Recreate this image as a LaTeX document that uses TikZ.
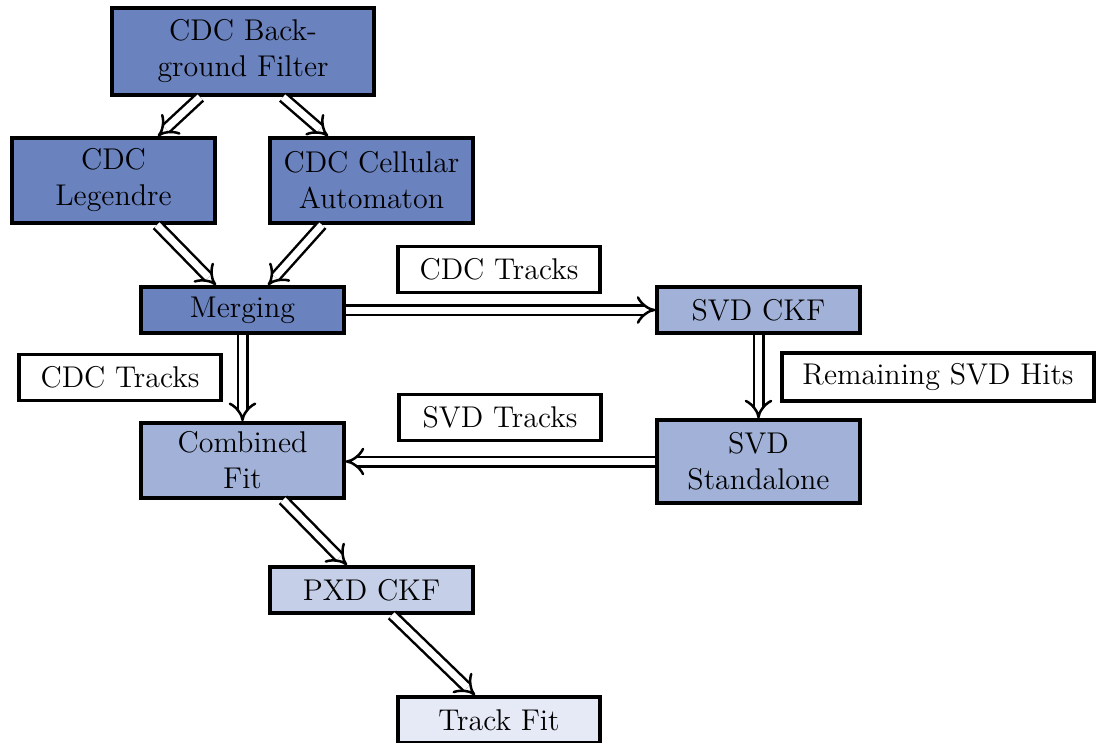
\documentclass[tikz,border=0pt]{standalone}
\usepackage{tikz}
\usetikzlibrary{positioning,arrows.meta}
\definecolor{cdark}{HTML}{6a82be}
\definecolor{cmid}{HTML}{a1b1d8}
\definecolor{clight}{HTML}{c6cfe8}
\definecolor{cpale}{HTML}{e6eaf6}

\begin{document}
\begin{tikzpicture}[x=0.4pt, y=-0.4pt, font=\fontsize{12}{14.4}\selectfont,
  box/.style={draw=black, line width=1.5pt, align=center, inner sep=2pt, minimum width=81pt, minimum height=18.4pt},
  lab/.style={box, fill=white},
  flow/.style={double, double distance=2.8pt, line width=1pt, -{Implies}}]
\useasboundingbox (0,0) rectangle (1096,742);
\node[box, fill=cdark, minimum width=105pt, minimum height=35pt] (bg) at (243,51.5) {CDC Back-\\ground Filter};
\node[box, fill=cdark, minimum height=34pt] (leg) at (113.5,180.5) {CDC\\Legendre};
\node[box, fill=cdark, minimum height=34pt] (cell) at (371.5,180.5) {CDC Cellular\\Automaton};
\node[box, fill=cdark] (merge) at (242.5,310) {Merging};
\node[box, fill=cmid] (ckf) at (758.5,310) {SVD CKF};
\node[box, fill=cmid, minimum height=30pt] (comb) at (242.5,460.5) {Combined\\Fit};
\node[box, fill=cmid, minimum height=33pt] (stand) at (758.5,461.5) {SVD\\Standalone};
\node[box, fill=clight] (pxd) at (371.5,590) {PXD CKF};
\node[box, fill=cpale] (fit) at (499,720) {Track Fit};
% labels
\node[lab] (cdctop) at (499,269.5) {CDC Tracks};
\node[lab] (cdcleft) at (120,377.5) {CDC Tracks};
\node[lab] (svdtr) at (500,417.5) {SVD Tracks};
\node[lab, minimum width=125pt, minimum height=19pt] (hits) at (938,377) {Remaining SVD Hits};
% connectors
\draw[flow] ([xshift=-17.2pt]bg.south) -- ([xshift=17.8pt]leg.north);
\draw[flow] ([xshift=16pt]bg.south) -- ([xshift=-17.4pt]cell.north);
\draw[flow] ([xshift=17.4pt]leg.south) -- ([xshift=-10.6pt]merge.north);
\draw[flow] ([xshift=-19.8pt]cell.south) -- ([xshift=10.2pt]merge.north);
\draw[flow] (merge.east) -- (ckf.west);
\draw[flow] (merge.south) -- (comb.north);
\draw[flow] (ckf.south) -- (stand.north);
\draw[flow] (stand.west) -- (stand.west -| comb.east);
\draw[flow] ([xshift=16.2pt]comb.south) -- ([xshift=-9.8pt]pxd.north);
\draw[flow] ([xshift=8.2pt]pxd.south) -- ([xshift=-9.6pt]fit.north);
\end{tikzpicture}
\end{document}
